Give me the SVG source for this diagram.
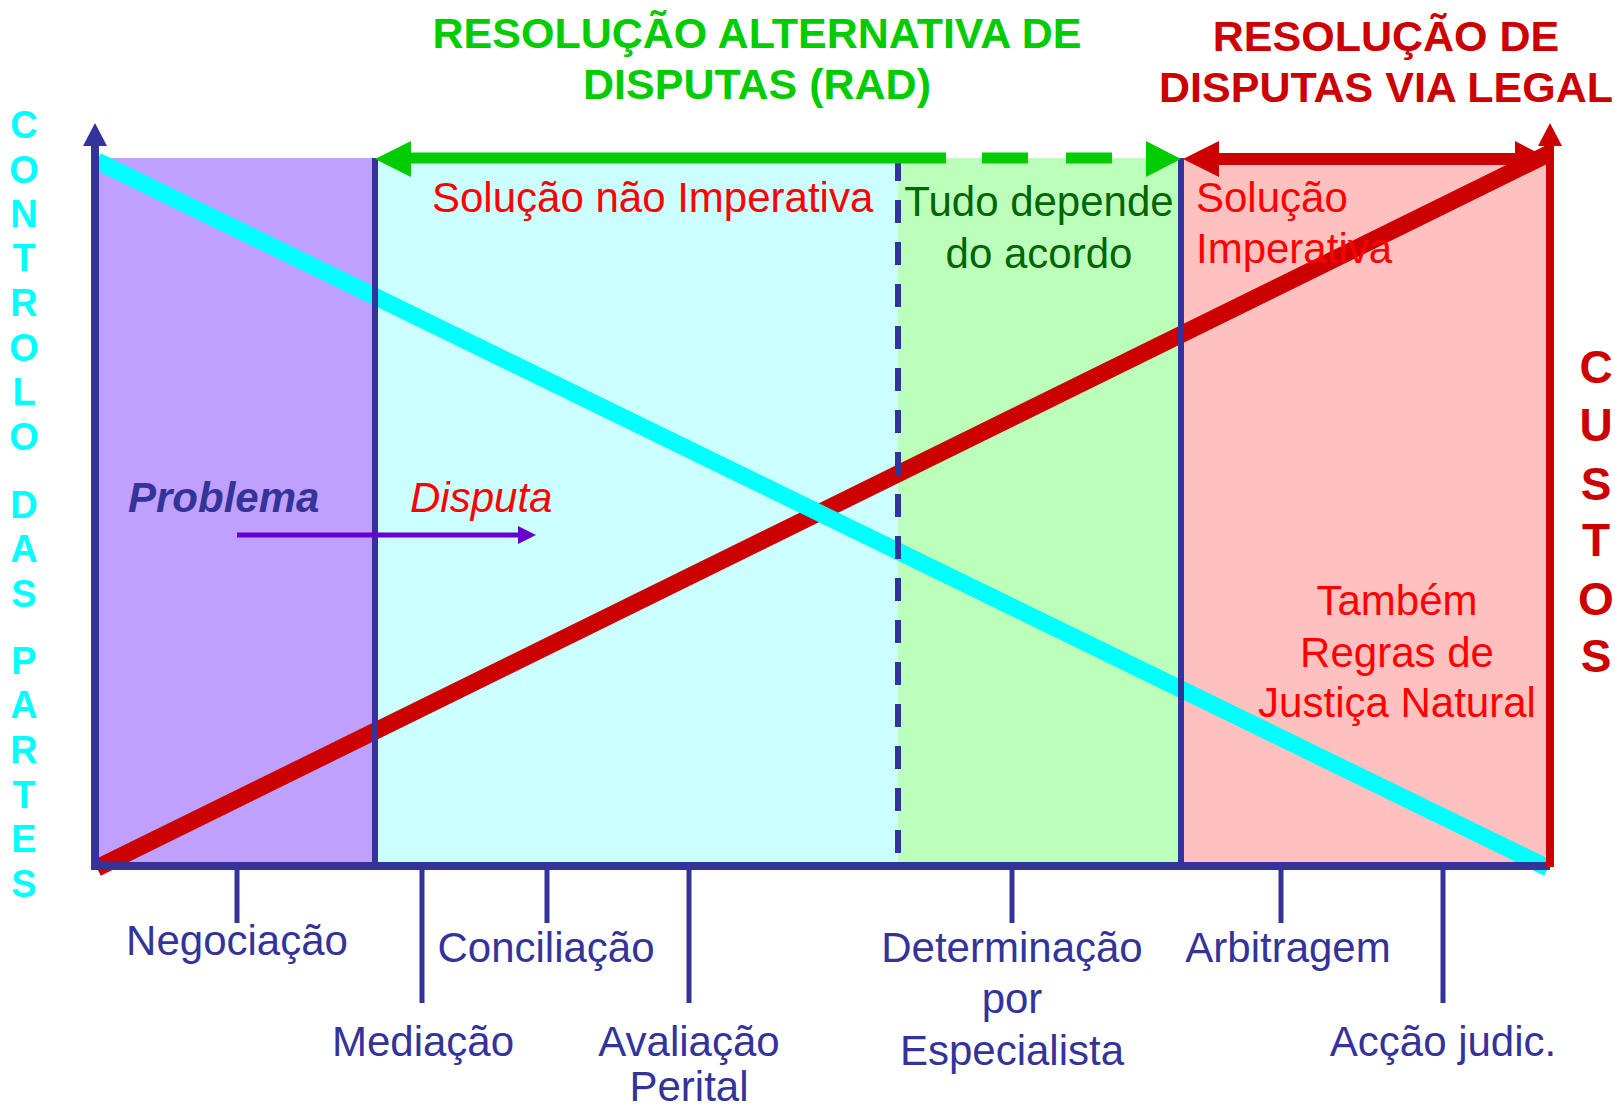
<svg xmlns="http://www.w3.org/2000/svg" width="1615" height="1110" viewBox="0 0 1615 1110">
<style>
text{font-family:"Liberation Sans",Arial,sans-serif;font-size:42px}
.t{font-weight:bold;text-anchor:middle;font-size:43px}
.lab{fill:#333399;text-anchor:middle}
.red{fill:#FF0000}
.m{text-anchor:middle}
.vl{font-weight:bold;fill:#00FFFF;font-size:38px;text-anchor:middle}
.vc{font-weight:bold;fill:#CC0000;font-size:46px;text-anchor:middle}
.blue{stroke:#333399;fill:none}
</style>
<rect width="1615" height="1110" fill="#FFFFFF"/>
<g id="zones">
<rect x="95" y="158" width="280" height="708" fill="#C0A0FF"/>
<rect x="375" y="158" width="523" height="708" fill="#CCFFFF"/>
<rect x="898" y="158" width="283" height="708" fill="#BBFFBB"/>
<rect x="1181" y="158" width="369" height="708" fill="#FFC0C0"/>
</g>
<g id="connectors">
<line x1="97" y1="868" x2="1550" y2="153" stroke="#CC0000" stroke-width="17"/>
<line x1="97" y1="161" x2="1548" y2="868" stroke="#00FFFF" stroke-width="17"/>
<line class="blue" x1="375" y1="158" x2="375" y2="866" stroke-width="6"/>
<line class="blue" x1="1181" y1="158" x2="1181" y2="866" stroke-width="6"/>
<line class="blue" x1="898" y1="158" x2="898" y2="853" stroke-width="6" stroke-dasharray="23 19"/>
<line class="blue" x1="91" y1="866" x2="1550" y2="866" stroke-width="8"/>
<line class="blue" x1="95" y1="870" x2="95" y2="144" stroke-width="8"/>
<polygon points="95,123 83,146 107,146" fill="#333399"/>
<line x1="1550" y1="867" x2="1550" y2="144" stroke="#CC0000" stroke-width="8"/>
<polygon points="1550,123 1538,146 1562,146" fill="#CC0000"/>
<line x1="408" y1="158" x2="946" y2="158" stroke="#00CC00" stroke-width="11"/>
<line x1="982" y1="158" x2="1028" y2="158" stroke="#00CC00" stroke-width="11"/>
<line x1="1066" y1="158" x2="1112" y2="158" stroke="#00CC00" stroke-width="11"/>
<polygon points="375,159 411,141 411,177" fill="#00CC00"/>
<polygon points="1181,159 1146,141 1146,177" fill="#00CC00"/>
<line x1="1215" y1="159" x2="1518" y2="159" stroke="#CC0000" stroke-width="12"/>
<polygon points="1183,159 1219,141 1219,177" fill="#CC0000"/>
<polygon points="1550,159 1515,141 1515,177" fill="#CC0000"/>
<line x1="237" y1="535" x2="520" y2="535" stroke="#6600CC" stroke-width="5"/>
<polygon points="536,535 518,526 518,544" fill="#6600CC"/>
<g stroke="#333399" stroke-width="5">
<line x1="237" y1="866" x2="237" y2="923"/>
<line x1="422" y1="866" x2="422" y2="1003"/>
<line x1="547" y1="866" x2="547" y2="923"/>
<line x1="689" y1="866" x2="689" y2="1003"/>
<line x1="1012" y1="866" x2="1012" y2="923"/>
<line x1="1281" y1="866" x2="1281" y2="923"/>
<line x1="1443" y1="866" x2="1443" y2="1003"/>
</g>
</g>
<g id="title-rad">
<text class="t" x="757" y="48" fill="#00CC00">RESOLUÇÃO ALTERNATIVA DE</text>
<text class="t" x="757" y="99" fill="#00CC00">DISPUTAS (RAD)</text>
</g>
<g id="title-legal">
<text class="t" x="1386" y="51" fill="#CC0000">RESOLUÇÃO DE</text>
<text class="t" x="1386" y="102" fill="#CC0000">DISPUTAS VIA LEGAL</text>
</g>
<g id="axis-controlo">
<text class="vl" x="24" y="138">C</text>
<text class="vl" x="24" y="183">O</text>
<text class="vl" x="24" y="227">N</text>
<text class="vl" x="24" y="271">T</text>
<text class="vl" x="24" y="316">R</text>
<text class="vl" x="24" y="361">O</text>
<text class="vl" x="24" y="405">L</text>
<text class="vl" x="24" y="450">O</text>
<text class="vl" x="24" y="518">D</text>
<text class="vl" x="24" y="562">A</text>
<text class="vl" x="24" y="607">S</text>
<text class="vl" x="24" y="674">P</text>
<text class="vl" x="24" y="718">A</text>
<text class="vl" x="24" y="763">R</text>
<text class="vl" x="24" y="808">T</text>
<text class="vl" x="24" y="852">E</text>
<text class="vl" x="24" y="897">S</text>
</g>
<g id="axis-custos">
<text class="vc" x="1596" y="383">C</text>
<text class="vc" x="1596" y="441">U</text>
<text class="vc" x="1596" y="500">S</text>
<text class="vc" x="1596" y="556">T</text>
<text class="vc" x="1596" y="615">O</text>
<text class="vc" x="1596" y="672">S</text>
</g>
<g id="zone-labels">
<text class="red" x="432" y="212">Solução não Imperativa</text>
<text class="m" x="1039" y="216" fill="#006600">Tudo depende</text>
<text class="m" x="1039" y="268" fill="#006600">do acordo</text>
<text class="red" x="1196" y="212">Solução</text>
<text class="red" x="1196" y="263">Imperativa</text>
<text class="red m" x="1397" y="615">Também</text>
<text class="red m" x="1397" y="667">Regras de</text>
<text class="red m" x="1397" y="717">Justiça Natural</text>
</g>
<g id="problema-disputa">
<text x="128" y="512" fill="#333399" font-weight="bold" font-style="italic">Problema</text>
<text x="410" y="512" fill="#FF0000" font-style="italic">Disputa</text>
</g>
<g id="methods">
<text class="lab" x="237" y="955">Negociação</text>
<text class="lab" x="423" y="1056">Mediação</text>
<text class="lab" x="546" y="962">Conciliação</text>
<text class="lab" x="689" y="1056">Avaliação</text>
<text class="lab" x="689" y="1101">Perital</text>
<text class="lab" x="1012" y="962">Determinação</text>
<text class="lab" x="1012" y="1013">por</text>
<text class="lab" x="1012" y="1065">Especialista</text>
<text class="lab" x="1288" y="962">Arbitragem</text>
<text class="lab" x="1443" y="1056">Acção judic.</text>
</g>
</svg>
